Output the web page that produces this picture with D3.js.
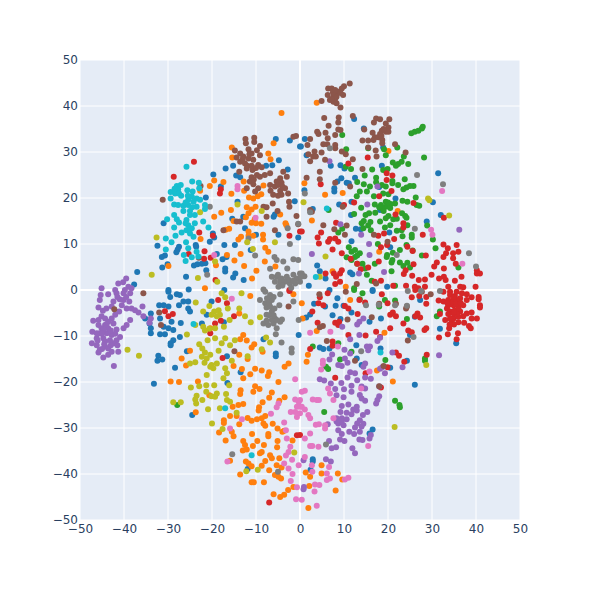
<!DOCTYPE html>
<html><head><meta charset="utf-8">
<script src="https://cdnjs.cloudflare.com/ajax/libs/d3/7.8.5/d3.min.js"></script>
<style>html,body{margin:0;padding:0;background:#fff}svg{display:block}</style>
</head><body><div id="c"></div>
<script>
const tickValues=[-50,-40,-30,-20,-10,0,10,20,30,40,50];
const class0=[[-5.5,32.8],[-2.3,32.5],[0,31.2],[-4.8,28.2],[-7.7,27],[-6.3,27.1],[-2.8,26.2],[-16.9,26.4],[-15.2,27],[-14.5,24.9],[-13.6,24.5],[-19.7,25.1],[-18,22.5],[-21.4,20.1],[-14.2,19.2],[-1.2,19.3],[-15.4,15.5],[-12.9,15.9],[-6,15.9],[-5.7,16.4],[-31,14.5],[-12.5,13.4],[-4.9,12],[-0.4,11.4],[-10,12],[-19.8,12.3],[-19.5,11.4],[-20.5,10.5],[-17.2,9.8],[-14.8,9.8],[-32.4,9.6],[-23.7,9.8],[-23.6,9.4],[-27.5,9.4],[-27.8,8.8],[-28.1,8.2],[-30.7,7.5],[-31.4,7.2],[-11.2,8.7],[-18.9,7.8],[-17.6,6.7],[-16.7,7.2],[-31.3,4.9],[-30.1,5.6],[-24.1,5.3],[-23.3,5.6],[-22.3,5.7],[-21.5,5.8],[-21.3,4.3],[-17,4.7],[-17,4],[-14.7,3.6],[-15.2,2.7],[-12.8,2.2],[-25.9,2.9],[-37,3.9],[-37.7,1.2],[-29.9,0],[-25.3,0.1],[-17.2,0],
[12.3,37.2],[14.5,35.1],[1.1,32.8],[0.2,31.2],[1.5,29.3],[18.9,31],[7,27],[9.2,27.1],[10.1,26.4],[18.6,27],[31.4,25.4],[9.4,24.3],[8.5,23.6],[7.8,22.1],[7.8,21.4],[10.6,23.3],[11.1,23.2],[12.5,24.4],[1,21.7],[18,22.4],[21.7,19.9],[30.2,19.1],[2.9,17.6],[8.9,18.6],[11.7,19.2],[18.2,17.4],[11.6,16.3],[32,16.3],[28.8,14.9],[12.7,13.3],[13.8,13.2],[20.3,12.5],[11.7,10.6],[20.5,9.3],[3.9,5.3],[4.5,4.1],[5.8,2.5],[11.4,3.8],[11.9,3.4],[2,0.9],[19.8,0.7],[16.5,0],[6.7,0],
[-29.9,-0.4],[-29.5,-1.5],[-28,-0.9],[-27.3,-1.1],[-27.5,-3.3],[-26.5,-2.5],[-25.4,-2.5],[-25.4,-4],[-25,-4.7],[-32,-3.3],[-31,-3.3],[-29.9,-3.6],[-33.9,-5.1],[-35.2,-6.2],[-31.8,-6.2],[-34.2,-7.3],[-29.2,-6.9],[-27.1,-7.2],[-31,-8],[-29.9,-8.3],[-28.8,-8.7],[-33.9,-8.3],[-33.9,-9.4],[-31.8,-9.6],[-30.7,-9.6],[-27.3,-10.2],[-28.8,-10.9],[-29.4,-11.6],[-29.4,-12],[-25.7,-13.3],[-32.2,-14.3],[-32.4,-15.4],[-31.3,-15.1],[-28.4,-16.9],[-33.2,-20.4],[-13.5,-17.9],[-16.6,-14.4],[-5.5,-13.8],[-5.5,-14.4],[-8.3,-10.7],[-16.5,-20.2],[-24.5,-27.2],[-20.1,-2.5],[-21.2,-5.4],[-22.3,-7.3],[-17.3,-7],[-11.9,-38.9],[-0.3,-9.8],
[16.5,-0.2],[8.5,-1.8],[8.1,-3.4],[3.2,-3],[5.7,-3.6],[9.9,-3.4],[11.7,-4.9],[27.3,-2.2],[7.4,-5.5],[9.2,-6.3],[18.4,-6.2],[15.8,-6.9],[2.3,-5.3],[1.4,-6],[26.1,-5.8],[31.8,-8.4],[35.5,-11.6],[25,-9.8],[12.8,-12],[4.5,-12.5],[5.3,-12.8],[6.7,-12.7],[18.3,-12.7],[12.9,-14.9],[14,-16.3],[24.3,-15.4],[20.5,-16.9],[26.1,-20.6],[16.5,-30.3],[15.8,-31.2],[2.9,-36.8],[2.9,-37.3],[2.4,-39.1]];
const class1=[[-4.2,38.5],[-6,31.9],[-15.5,31],[-15.4,28.8],[-7.2,29.7],[-6.7,28.4],[-19.5,23.8],[-17.4,23.5],[-20.5,22.6],[-22.7,21.6],[-15.6,20.9],[-12.8,23.6],[-12.7,21.6],[-8.3,22.7],[-11.6,20.1],[-10.6,19.9],[-9.6,20.4],[-8.8,20.8],[-12.1,18],[-10.1,18.1],[-11,17.5],[-11.7,16.7],[-12.3,15.8],[-15.7,17.4],[-17.9,16.8],[-19.5,15.9],[-15.1,15],[-10.3,15.4],[-11,14.6],[-10,14.5],[-8.8,14.4],[-4.5,16.4],[-3.3,14.5],[-3.1,14.1],[-16.9,13.1],[-16.1,13.3],[-11.7,12.7],[-11.7,11.8],[-10.6,11.8],[-13.4,11.6],[-14,11],[-8.4,12],[-8.4,11],[-22.6,11.1],[-7.9,9.2],[-7.2,8.3],[-13.5,7.8],[-16.6,7.6],[-14.9,6.4],[-12.7,5.2],[-8,6.2],[-29.9,5.2],[-19.1,5.4],[-9.9,4.2],[-10.9,2.5],[-5.6,5.1],[-21.6,0.4],
[3.8,40.7],[20.1,30.2],[1,23.2],[5.7,20.7],[9.7,21.1],[2.7,15.1],[22.2,17.2],[18,8.3],[7.4,4.1],[10.4,0.7],
[-11.3,-1.3],[-1.5,-0.9],[-13.8,-5.1],[-20.4,-8.3],[-12.9,-9.8],[-12.1,-11],[-13.6,-10.7],[-10.4,-11.8],[-11,-12.5],[-8.5,-13.4],[-25,-13.2],[-26.9,-14.9],[-25.9,-16.4],[-13.8,-14.1],[-11.9,-15],[-15.1,-16.5],[-2.6,-16],[-3.5,-16.7],[-13.2,-17.2],[-10.2,-17.1],[-8.7,-17.5],[-11.3,-18.3],[-7,-17.9],[-12.9,-19.2],[-7.3,-18.7],[-4.9,-20],[-29.4,-19.9],[-27.5,-20],[-23.2,-19.9],[-10.2,-20.9],[-9.2,-21.5],[-10.6,-22.1],[-13.5,-21.8],[-13.6,-22.6],[-20.6,-22.9],[-6.4,-22.3],[-7,-23.4],[-3.5,-23.3],[-4.7,-24.1],[-8.5,-24.4],[-12.9,-24.8],[-14,-25],[-15.3,-25.4],[-9.3,-25.5],[-9.4,-26.2],[-23.7,-26.6],[-15.9,-27.4],[-14.4,-27.4],[-7.9,-27.4],[-17.3,-28.3],[-17.3,-28.9],[-11.9,-27.8],[-11,-28.4],[-9.8,-28.1],[-8.7,-27.9],[-8.3,-29],[-7.9,-29.5],[-13.8,-29.2],[-6.2,-29.1],[-5.1,-30.1],[-4,-30.8],[-3.6,-30.6],[-18.4,-31],[-15.5,-30.8],[-15.1,-31.8],[-10.9,-31.3],[-7.2,-31.3],[-7.2,-31.8],[-16.9,-32.7],[-12.9,-32.8],[-12.5,-33.7],[-9.7,-32.8],[-8.2,-33.7],[-5.1,-32.8],[-5.2,-34.2],[-1.7,-32.7],[-10.7,-33.9],[-13,-34.9],[-12.1,-34.7],[-8.7,-35.2],[-9.1,-35.5],[-6.8,-35.9],[-6.4,-36.6],[-15.9,-37.1],[-12.3,-37.3],[-11.7,-37.7],[-11,-38.3],[-7.9,-37.2],[-4.7,-36.6],[-8.7,-38.2],[-5.3,-38.1],[-4.2,-38.6],[-7,-39.2],[-13.6,-40.1],[-5.7,-40.2],[-4.9,-40.6],[-4.3,-41],[-11,-41.8],[-10.5,-41.8],[-8.2,-41.8],[-6,-44.4],[-4.5,-45],[-3.6,-44.5],[-2.7,-43.5],[-1.5,-42.8],
[0.4,-2.9],[11.4,-2.2],[0.6,-6.2],[3.8,-8.9],[19.2,-9.3],[1.8,-14.1],[1.5,-15.6],[17.5,-17.5],[21.1,-19.9],[4.9,-38.1],[8.6,-39.9],[1.3,-39.7],[2.3,-40.6],[4.9,-39.9],[9.6,-41.2],[2.1,-42.6],[8.1,-43.6],[1.9,-47.4]];
const class2=[[9.6,33.7],[25.3,34.1],[26.1,34.4],[26.9,34.6],[27.7,35.1],[27.9,35.5],[10.5,30.6],[15.5,30.8],[19.1,30.6],[19.5,29.3],[22.1,31],[28.2,28.8],[23.6,29],[23.1,27.9],[22.3,27.4],[21.8,27],[21.1,27.7],[24.6,27.4],[19.9,26.3],[18.9,26.1],[11.6,26.3],[10.4,26.8],[16.4,26.2],[14.7,24.9],[17.3,24.4],[17.3,23.4],[13,23.5],[14.5,23],[23.8,24.1],[21,23.7],[21,23.2],[22.3,22.8],[25.8,22.6],[25,22.6],[24.2,22.3],[23.5,21.9],[18.6,22.8],[19.5,22.5],[15.9,22.5],[15.2,21.4],[13.6,21.4],[12.9,20.4],[18.9,21],[20.1,20.8],[16.8,20.4],[23.3,19.4],[24.4,19.2],[26.3,20.1],[26.5,18.5],[27.1,18.3],[6.5,17.4],[13.9,17.9],[17,18.6],[18.4,18.5],[19.5,19.2],[20.6,18.7],[21.6,18.8],[19.5,18.1],[18.6,17.8],[20.5,17.8],[12.3,16.5],[14.9,16.3],[15.7,16.7],[17.1,16.8],[20.1,16.1],[19.5,15.6],[23.2,16.7],[23.9,16.1],[24.2,15.7],[21.2,15.4],[18.2,14.9],[14,14.5],[15.5,14],[14.4,13.4],[28.9,14],[20.5,14.1],[19.3,13.6],[24.4,14.1],[16.1,13],[22,12.9],[23.1,13],[23.3,11.7],[25.4,12],[25.4,11.4],[30.2,11],[8.7,12.5],[9.6,13.3],[17.7,10],[11.1,9.3],[11.7,8.3],[12.5,8.7],[13.6,8],[12.5,7.2],[10.6,7.1],[11.7,6.5],[24.2,9.8],[22.7,8.7],[25.6,8.6],[21.1,8.1],[19.8,7.6],[19.7,7.2],[27.7,7.5],[30.8,9.1],[14.2,5.7],[13,5.7],[20.8,6],[22.7,6],[24.4,5.9],[23.5,5.2],[25,4.9],[20.8,4.1],[17,5.7],[14.8,4.7],[15.2,3.3],[16.3,2],[12.3,0.4],[21.6,0.9],[36,4.9],
[-27.9,-25],
[14.2,-0.7],[12.3,0],[13.6,-2],[19.3,-2.2],[21.6,-2.3],[18,-3.6],[24.3,-6.3],[31.1,-5.7],[31.8,-4.7],[8.7,-11.6],[2.9,-12.3],[11.7,-13.4],[9.1,-15.1],[19.4,-15.2],[28.4,-14.9],[28.4,-15.4],[5.9,-16.7],[6.4,-17.2],[21.6,-24.1],[22.6,-25],[22.7,-25.5],[5.5,-26.5],
[18,18],[19,17.2],[20,19],[14.5,15],[16,14.8],[21,6.5],[13,7.5],[22,15.5]];
const class3=[[-24.1,27.9],[-28.7,24.6],[-18,21.9],[-18.2,21],[-22.9,12.5],[-19.8,11.8],[-2.4,11.8],[0,12.7],[-21.7,8.4],[-25.3,7.8],[-21.8,6.8],[-20.3,7],[-19.2,2.2],[-2.4,0],
[11,27.5],[15.4,28.8],[19.7,25.4],[21,24.9],[19.7,23.9],[4.7,23],[20.8,21.5],[18,20.4],[12.3,19],[10,18.5],[25.8,18.9],[21.7,16.4],[32.7,15.7],[8.2,14.6],[23.5,14.5],[23.5,13.6],[4.8,12.5],[4,11.4],[4.3,10.1],[6.4,10.5],[6.8,11.1],[8,11.2],[8.7,10.5],[0.4,12.7],[17.8,11.8],[19.1,12.3],[27.9,12],[21.4,11.1],[7.4,8.8],[9.5,8],[11.5,6.8],[19.8,9.8],[18.4,9.3],[24.4,9.4],[25.6,8.5],[28.6,7.5],[32.6,9.9],[33.6,9.1],[35.6,9.8],[36,8.3],[34.8,8],[34.8,6.9],[33.2,8],[32.6,7.2],[31.1,6],[30.5,5.1],[32.7,4.7],[35.4,5.7],[40.2,4.3],[40.2,3.6],[40.9,3.6],[13,5.7],[13.8,4.5],[15.5,4.9],[17.9,6.2],[25.8,5.6],[24,4.3],[23.6,3.5],[9.5,4.3],[9.1,3.6],[7.7,3.6],[8.2,2.9],[9.1,1.8],[8,1.3],[5.8,3.6],[18.4,2],[17,1.8],[25.5,3.1],[29.9,3.3],[31.6,2.5],[32.7,2.9],[33.1,2.2],[27,2.2],[28.4,2.3],[24.1,0.9],[26.1,0.7],[26.9,0.4],[28.4,0.7],[35.2,2],[33.7,0.7],[36.7,2.9],[36.4,0.7],[37.1,0.6],[39.9,0.7],[21.2,0.9],
[-18.6,-2.2],[-16.6,-2.9],[-30.7,-4.6],[-29.9,-5.7],[-28.9,-5.2],[-15,-5.7],[-19.3,-7.3],[-18,-6.7],[-20.4,-9.4],[-17.6,-14.8],[-0.7,-31.6],[-7,-46.2],[-2.4,-0.2],
[32.6,-0.4],[34.1,-0.4],[35.6,-0.4],[36.8,-0.7],[37.9,-0.9],[40.6,-1.5],[40.6,-2],[31.5,-2.3],[32.6,-2.5],[33.7,-2.2],[34.9,-2.2],[36.4,-1.8],[37.9,-2.2],[39,-1.6],[40.9,-3.3],[40.9,-3.8],[33.4,-4],[34.9,-3.3],[36,-3.3],[37.1,-3.3],[34.1,-4.7],[35.2,-4.4],[36.4,-4.7],[37.9,-5.1],[39,-4.9],[40.2,-6.2],[39,-6.2],[37.1,-5.7],[31.8,-5.2],[33.7,-5.2],[33,-6.5],[34.9,-6.2],[36,-5.8],[34.5,-6.9],[37.3,-7.1],[38.4,-7.8],[38.8,-8.3],[33.9,-8.3],[35.9,-9.4],[33.6,-9.6],[31.6,-10.3],[35.6,-10.7],[34.1,-1.1],[35.2,-1.3],[34.5,-2.9],[35.6,-2.2],[33.7,-3.3],[34.9,-5.1],[35.6,-5.2],[34.1,-6.2],[35,-1.5],[34,-3],[36,-4],[35.5,-3],[33.5,-2.8],[35,-7.5],[36,-7],[34,-7.5],[36.5,-2.8],[35,-4.8],
[6.3,-0.7],[4.5,-1.6],[4.2,-2.9],[5.3,-3.3],[2.8,-4.7],[4,-7.1],[8,-7.1],[8.9,-6.9],[8.7,-7.6],[18.6,-0.9],[13.5,-2.2],[14.8,-2.7],[10.2,-3.5],[11,-4],[19.9,-2.9],[13.1,-5.2],[25.4,-1.6],[26.2,0],[27.1,-1.3],[28.7,-1.5],[28.7,-3],[26.7,-5.1],[26.2,-5.7],[27.3,-6],[20.5,-5.4],[21.1,-4.9],[21.8,-5.7],[23.5,-7.3],[20.5,-8.3],[17.3,-9.1],[18.2,-10.2],[11,-9.8],[14.9,-9.9],[24.6,-8.8],[25.4,-9.2],[28.7,-8.3],[28.3,-8.7],[7.4,-11.2],[7.4,-12.1],[2.3,-12.8],[28.8,-14.1],[21.8,-13.6],[22.5,-14.3],[23.7,-15.6],[19.9,-16.8],[14.9,-18.1],[8,-19.1],[18.4,-21.2],[0,-31.5]];
const class4=[[-39.5,2.5],[-40.2,1.7],[-41.3,1.4],[-39,0.7],[-45.1,0.4],[-42,0],[-38.3,0.4],[-39.8,0],
[6.7,28],[17.6,22.5],[15.3,18.6],[9.2,14.3],[13.9,12],[36.2,13.1],[15.7,10],[2.7,7.8],[15.8,7.6],[13.4,3.6],[19.1,3.9],
[-45.3,-1.1],[-45.5,-2.2],[-43.6,-0.9],[-41.7,-0.7],[-40.1,-0.7],[-38.6,-0.7],[-42.4,-2.5],[-40.1,-2.2],[-38.8,-2.5],[-40.5,-3.3],[-45.8,-3.8],[-42.8,-3.6],[-39.4,-4],[-38.3,-4],[-37.5,-4.4],[-36.7,-4.9],[-35.8,-3.6],[-35.6,-5.7],[-33.9,-6.2],[-34.2,-7.1],[-41.1,-4.7],[-42,-5.4],[-45.1,-5.7],[-47,-6.7],[-45.8,-6.5],[-44.3,-6.2],[-42.8,-6.2],[-38.6,-6.5],[-39.4,-7.6],[-40.1,-8.3],[-45.8,-7.6],[-44.3,-7.6],[-42.4,-7.3],[-41.7,-8.6],[-45.1,-8.3],[-47.2,-9.1],[-43.6,-8.3],[-45.5,-9.4],[-43.9,-9.4],[-46.2,-10.5],[-44.7,-10.5],[-42.8,-9.8],[-40.9,-10.2],[-41.7,-10.9],[-47.3,-11.6],[-46.2,-12],[-44.3,-11.2],[-42.4,-11.6],[-45.5,-13],[-43.6,-12.7],[-41.3,-13.4],[-45.8,-13.6],[-42.8,-13.4],[-44.7,-14.7],[-43.6,-14.1],[-42.3,-16.5],[-44.7,-8.7],[-43.2,-10.9],[-44.3,-12.3],[-46.2,-9.4],[-43.6,-6.9],[-44,-7.5],[-45,-9.5],[-43,-8.8],[-44.5,-11.8],[-43,-12],[-45,-12.8],[-46,-11],[-41.5,-12],[-42,-9.5],[-41,-2],[-39.5,-1.5],[-41.5,-1.5],[-44,-4],[-44.8,-4.5],
[14.4,-6.2],[13.5,-6.9],[13,-7.5],[9.6,-8],[11.4,-10.7],[13.5,-9.8],[17.6,-11.1],[18.2,-10.4],[10.1,-13],[11.4,-13.8],[15.2,-12.3],[15.9,-12.3],[15.5,-13.1],[21,-13.6],[7.3,-14],[6.7,-15.1],[10.2,-14.9],[10.8,-15.8],[8.7,-16.3],[9.5,-16.5],[14.8,-16],[14.4,-16.7],[18.7,-16.8],[18.2,-17.1],[23.3,-16.8],[19.3,-18.1],[31.6,-14.2],[11.4,-17.9],[12.5,-18.1],[10.8,-19],[13,-19.6],[14.8,-19],[16.1,-19.3],[4.5,-19.4],[5.5,-19.7],[7,-20.3],[9.4,-20.2],[11.7,-20.8],[14,-21],[14.8,-21.4],[18,-21],[8,-21.5],[10,-21.6],[11.7,-22.1],[8.3,-22.9],[9.9,-23.3],[13.6,-22.8],[14,-23.6],[14.8,-24.1],[18,-23.1],[17.6,-23.9],[17.3,-24.7],[11,-24.9],[9.5,-25.2],[12.9,-25.4],[12.1,-26],[9.2,-26.5],[10.6,-26.7],[11.7,-27],[12.9,-26.2],[15.3,-26.5],[14.3,-27.2],[8.3,-27.9],[9.5,-27.9],[10.6,-28.1],[13.6,-28.3],[13,-29],[14.4,-29.1],[8.7,-29],[9.9,-29.4],[12.5,-29.9],[14,-29.7],[6.3,-29.2],[8.7,-30.5],[9.5,-31.3],[11.2,-30.8],[12.3,-31.3],[13.6,-30.8],[16.1,-31.5],[15.8,-32.3],[13.5,-32.5],[14.2,-32.6],[6.6,-32.8],[9.1,-32.5],[10.1,-32.8],[7.2,-34.4],[8.2,-34.2],[11.9,-34.4],[12.5,-35.5],[5.9,-36.8],[7,-37.3],[0.8,-37],[0.9,-42.8],[0.8,-43.3],[9.5,-28.6],[8.3,-28.6]];
const class5=[[-12.4,32.8],[-12.3,31.9],[-10.4,33.1],[-10.4,32.2],[-9.1,31.3],[-9.8,30.4],[-14.8,30.3],[-13.6,29.7],[-11.7,30.6],[-11,29.7],[-9.1,29.3],[-14.4,28.8],[-12.9,29],[-11.7,28.6],[-13.6,27.9],[-12.5,27.5],[-10.6,28.3],[-9.5,27.2],[-8.7,26.7],[-12.1,26.4],[-10.8,26.1],[-13.8,25.7],[-9.8,25],[-11,24.5],[-9.1,24.6],[-8,25],[-6.8,25.4],[-11.4,23.6],[-10.6,23],[-12.1,22.1],[-9.5,22.1],[-10.2,21.4],[-11.5,29.5],[-12,27],[-11,27],[-10,26.5],[-13,28.5],[-10.5,24],
[-3.8,25.7],[-4.5,24.3],[-3,24.6],[-5.3,23.6],[-4.2,23.3],[-6.8,22.8],[-5.7,22.5],[-3.4,22.1],[-6.7,21.6],[-4.5,21.6],[-2.7,21],[-6.1,20.7],[-4.2,20.7],[-6.2,18.8],[-2.5,19.2],[-2.4,18.1],[-8.3,18.1],[-7.6,18],[-5.1,17.2],[-7.6,15.9],[-0.8,16.1],[-14.4,14.9],[-13.6,14.9],[-5.7,13],[-0.4,14.3],[-1.5,33.3],[-0.9,33.5],[-22.6,22.6],[-31.2,19.6],[-17.4,13],[-23,7],[-4,22.5],[-5,22.8],[-5,20.5],
[11.3,44.9],[10,44.3],[9.5,43.8],[6.4,43.8],[7.2,43.8],[8.7,43.1],[9.8,42.4],[6.3,42.4],[7.6,42.8],[8.3,42],[6.8,41.3],[7.6,40.9],[8.3,40.6],[9.2,39.7],[4.9,41.1],[9.2,42.8],[7.6,42],[7.5,43],[8,43.5],[8,41.5],[7.2,41.5],
[12,37.8],[5.5,37.4],[8.8,37.5],[8.7,36.4],[6.5,35.7],[3.9,34.4],[4.2,33.9],[5.8,34.2],[8.7,34.9],[9.2,34.8],[8,33.7],[6.3,33],[5.3,31.7],[6.2,31.7],[8,31.5],[8,30.8],[2.3,32.8],[1.7,31.5],[3.3,30.1],[4.9,29.9],[1.9,29.5],[3,29],[2.3,28],[3.6,29],[5.7,28.3],[9.5,30.1],[10.4,29.5],[12,28.4],[4.5,25.7],[4.5,24.1],[1.5,24.4],[8,23.3],[11.4,22.5],[14.2,26.3],[17.4,29],[17.2,30.3],[15.5,31],[21.6,31.7],[24,29.9],
[17.3,37.3],[18.2,37.1],[20.3,37.1],[16.8,36.4],[19.5,36.2],[14.6,34.9],[20.1,35.3],[16.5,34.2],[18.6,34.6],[19.5,34.4],[20.1,34.4],[18.2,33.9],[17,33.2],[17.8,33.2],[14.2,32.5],[15.5,32.5],[16.7,32.6],[18.7,32.6],[18.7,31.9],[18.5,33.5],[19,35],
[2.3,17.4],[2.7,17],[9.7,18.1],[7.8,13.2],[5.3,14.1],[10.6,14],[10.2,12],[16.8,12],[19.9,10.5],[12.9,1.3],[17.3,1.4],
[-35.6,-0.7],[-42.2,-4.2],[-32,-4.9],[-31.6,-7.6],[-14.9,-13.3],[-2.6,-3.6],
[4.4,-0.9],[10.4,-0.4],[18,-3],[21.8,-3],[24.3,-3.6],[24.1,-4],[29.7,-0.9],[10.8,-6.4],[16.3,-5.9],[4.5,-8.1],[5.2,-7.8],[6.1,-11.1],[24.5,-11],[19,-16.5],[12.5,-15.4],[18,-20.9],[27.7,-0.4]];
const class6=[[-14.2,22.6],[-14.2,21.9],[-10.1,15.7],[-19.5,7.6],
[32.3,21.5],[29.8,13.1],[30.1,12],[36.9,5.7],
[-15.5,-1.9],[-1.1,-19.4],[-1.1,-23.8],[-0.3,-24.3],[-0.7,-25.4],[-1.1,-26.5],[-0.7,-27.6],[-2.1,-26.5],[0,-25.4],[-4.9,-24.7],[-5.3,-25.5],[-6.6,-26.9],[-13.2,-28.1],[-3.6,-28.8],[-3.2,-30.5],[-15.9,-30.1],[-3,-32.3],[-2.2,-34.1],[-2.6,-35.2],[-3.2,-36],[-1.8,-36.9],[-3.6,-37.7],[-2.6,-38.8],[-0.3,-38.1],[-16.5,-37.3],[-1.7,-40],[-2.1,-41.5],[-0.7,-42.9],[-0.9,-45.5],
[8.6,-12.3],[6.9,-9.1],[2.3,-9.3],[15.8,-17.7],[5.2,-15.4],[5.2,-16.1],[4.8,-17.3],[6.4,-21.4],[6.8,-22.5],[13.9,-21.4],[7.6,-23.9],[1.1,-21.9],[0.4,-22.1],[2.9,-23.8],[3.8,-23.9],[4.3,-23.9],[0,-23.9],[0.4,-25.4],[1.1,-26],[1.9,-27.2],[2.3,-27.9],[0,-26.8],[7.6,-27.9],[3.6,-29.3],[4.3,-29.2],[5.7,-29.4],[5.7,-30.1],[2.3,-31.2],[1.1,-32.3],[2.3,-33.9],[2.8,-33.9],[4.2,-34.1],[15.5,-33.9],[1.1,-36.3],[2.7,-38.1],[6.6,-38.5],[6.1,-39.9],[6.8,-41],[6.1,-41.3],[2.8,-39.5],[11,-40.8],[10.2,-41.2],[3.4,-42.3],[4.4,-42.4],[3.3,-43.8],[0.4,-45.6],[3.8,-46.9]];
const class7=[[-20.5,18.1],[-2.8,13.4],[-0.4,14.4],[-2.3,10],[-11.7,11.2],[-5.8,7.2],[-5.3,6.5],[-3.8,6.2],[-1.5,6.7],[-0.4,6.5],[-6.8,4.6],[-2.9,4.7],[-10.2,7.5],[-21.1,3.3],[-6.4,2.9],[-5.3,2.9],[-4.2,2.5],[-3,2.9],[-1.5,3.3],[-0.8,2.5],[0,3.6],[-5.7,1.8],[-4.5,1.4],[-3.4,1.8],[-2.3,1.4],[-1.1,1.4],[-4.9,0.7],[-8.3,0.1],[0,1.8],[-4,1],[-2,0.5],[1,3],[-3,2],[-4.5,2.2],[-2.5,2.2],[-5,3.3],[-1.5,2],
[6.8,30.8],[26.6,25],[32.5,23],[1.1,21],[2.3,16.9],[26.1,13.3],[22,7.6],[38.4,8],[40,5.1],[0.4,3.6],[0.6,3],[0.2,2.9],
[-7.9,-0.4],[-6.8,-1.1],[-9.1,-2.2],[-7.9,-2.9],[-6.4,-2.2],[-4.7,-3.3],[-7.6,-3.8],[-6.4,-4.7],[-4.5,-0.9],[-1.5,-2.5],[-7.6,-5.4],[-4.1,-6.4],[-4.5,-6.9],[-8.3,-7.3],[-7.2,-7.6],[-6,-7.3],[-5.3,-8.3],[-0.3,-6.5],[-5.5,-9.6],[-4.2,-11.4],[-1.9,-12.7],[-1.9,-13.6],[-15.4,-35.7],[-5,-39.5],[-6.8,-3.6],[-5.7,-6.2],[-6.4,-6.5],[-7.6,-6.7],[-5.3,-6.5],[-6,-1.5],[-7,-2.8],[-7,-5.5],[-6,-5.5],[-5.8,-4],[-7.5,-1.8],
[15,-3.3],[24.3,-3.4],[24.5,-0.2],[27.5,-0.2],[31.8,-0.2],[25.8,-10.2],[13.9,-13.3],[5.9,-33.6],[17.9,-3.2],[21.6,-3.3]];
const class8=[[-14.2,18.6],[-8.7,17.2],[-22.7,16.9],[-32.6,11.4],[-12,10.4],[-5.7,10.4],[-10.7,8.9],[-19.3,6.2],[-33.7,3.3],[-23.2,2.6],[-18.8,1.8],
[29.1,19.9],[29.4,19.5],[0.8,19.1],[33.9,16.2],[5.8,7.3],[4.5,2.9],
[-17.8,-0.7],[-13.3,-0.7],[-17,-1.6],[-23.7,-2.7],[-20.6,-3.5],[-13.8,-4],[-22,-4.7],[-19.5,-4.7],[-18.5,-4.4],[-16.4,-4],[-18.2,-5.4],[-20.1,-5.4],[-18.9,-5.7],[-12.5,-5.7],[-9.1,-5.9],[-23.8,-7.6],[-22,-8],[-11.2,-7],[-16,-6.5],[-17.3,-8],[-20.6,-8.4],[-21.6,-8.8],[-19.3,-8.3],[-25.7,-9.7],[-21,-10.9],[-19.3,-10.5],[-17.8,-11.6],[-17,-10.5],[-15.9,-12],[-14.8,-10.9],[-22.9,-11.8],[-22.2,-12.7],[-21.6,-13.6],[-18.5,-13.2],[-20.4,-14.1],[-22.3,-14.5],[-21.2,-14.9],[-39.2,-13],[-36.6,-14.3],[-7.7,-10.3],[-6.8,-11.4],[-8.7,-12.9],[-11.9,-14.4],[-20.1,-16.3],[-18.9,-16],[-23.8,-15.7],[-25,-16],[-21.7,-15.8],[-15.5,-15.4],[-20.4,-16.7],[-19.7,-17],[-17,-17],[-21.2,-18.5],[-16.6,-18.1],[-17.4,-19.2],[-24.8,-21.2],[-22.9,-20.9],[-21.3,-20.7],[-19.5,-20.7],[-21.3,-22.1],[-16.1,-20.7],[-18.9,-22.5],[-20.1,-23.1],[-19.3,-23.2],[-16.8,-22.6],[-23.5,-23],[-23.8,-23.8],[-22.2,-23.9],[-16.6,-23.9],[-23.6,-24.7],[-15.9,-24.3],[-28.8,-24.4],[-27.1,-24.4],[-20.9,-25.9],[-18.2,-25.7],[-14.4,-26.7],[-20,-29],[-17.6,-30.2],[-1.3,-35.3],[-9.6,-39.1],[-12.2,-39.4],
[28.7,-16.3],[21.5,-29.8]];
const class9=[[-25.8,26.8],[-24.5,23.6],[-23,23.3],[-28,22.6],[-27.1,22.8],[-27.7,21.9],[-29.4,21.3],[-28.4,21],[-27.5,21],[-25.6,21.7],[-24.4,21.4],[-22.9,22.1],[-29.4,19.9],[-24.6,20.3],[-23.5,19.9],[-25.4,19.6],[-24.2,19.2],[-22.7,19.6],[-28.6,18.6],[-27.7,18.5],[-26.5,18.3],[-25.4,18.5],[-21.6,18.5],[-23.5,18.1],[-21.6,17.6],[-26.5,17.2],[-25,17.2],[-25,16.3],[-23.9,16.3],[-28.6,16.3],[-28,15.4],[-27.5,14.7],[-30.2,15.4],[-22,14.9],[-25.8,15.2],[-23.9,14.5],[-25.4,14.1],[-28.6,13.6],[-24.6,13.4],[-25.8,13],[-20.8,13.6],[-26.9,12.5],[-25,12.3],[-28.3,11.8],[-24.2,11.6],[-30.5,11.2],[-29.2,10.4],[-25.9,10.4],[-25.4,9.1],[-30.5,8.8],[-23.5,8.3],[-26.4,7.6],[-24.6,7.1],[-23.1,7.3],[-26,6.3],[-25.5,20.5],[-26,19],[-24.5,18],[-26,14.5],[-25,13.2],[-27,20.5],[-28.5,22],
[6.1,17.7],[3.6,2.8],[-24.2,-7.4],[-17,-25.7],[-11,-35.9],[18.3,-13.6]];
const seriesList=[class0,class1,class2,class3,class4,class5,class6,class7,class8,class9];
const palette=["#1f77b4","#ff7f0e","#2ca02c","#d62728","#9467bd","#8c564b","#e377c2","#7f7f7f","#bcbd22","#17becf"];

const W=600,H=600,m={l:80,r:80,t:60,b:80};
const x=d3.scaleLinear().domain([-50,50]).range([m.l,W-m.r]);
const y=d3.scaleLinear().domain([-50,50]).range([H-m.b,m.t]);
const svg=d3.select("#c").append("svg").attr("width",W).attr("height",H);
svg.append("rect").attr("x",m.l).attr("y",m.t).attr("width",W-m.l-m.r).attr("height",H-m.t-m.b).attr("fill","#E5ECF6");
const inner=tickValues.filter(t=>t!==0);
const grid=svg.append("g").attr("stroke","#fff").attr("fill","none");
grid.selectAll(".gx").data(inner).join("line").attr("x1",d=>x(d)).attr("x2",d=>x(d)).attr("y1",m.t).attr("y2",H-m.b).attr("stroke-width",1);
grid.selectAll(".gy").data(inner).join("line").attr("y1",d=>y(d)).attr("y2",d=>y(d)).attr("x1",m.l).attr("x2",W-m.r).attr("stroke-width",1);
grid.append("line").attr("x1",x(0)).attr("x2",x(0)).attr("y1",m.t).attr("y2",H-m.b).attr("stroke-width",2);
grid.append("line").attr("y1",y(0)).attr("y2",y(0)).attr("x1",m.l).attr("x2",W-m.r).attr("stroke-width",2);
seriesList.forEach((s,i)=>{
  svg.append("g").attr("fill",palette[i]).attr("stroke","none").selectAll("circle").data(s).join("circle")
    .attr("cx",d=>x(d[0])).attr("cy",d=>y(d[1])).attr("r",3);
});
const style=g=>{g.select(".domain").remove();g.selectAll("text").attr("fill","#2a3f5f").style("font-family","'DejaVu Sans',verdana,arial,sans-serif").style("font-size","12px");};
svg.append("g").attr("transform",`translate(0,${H-m.b})`).call(d3.axisBottom(x).tickValues(tickValues).tickSize(0).tickPadding(4)).call(style);
svg.append("g").attr("transform",`translate(${m.l},0)`).call(d3.axisLeft(y).tickValues(tickValues).tickSize(0).tickPadding(2)).call(style);
</script></body></html>
